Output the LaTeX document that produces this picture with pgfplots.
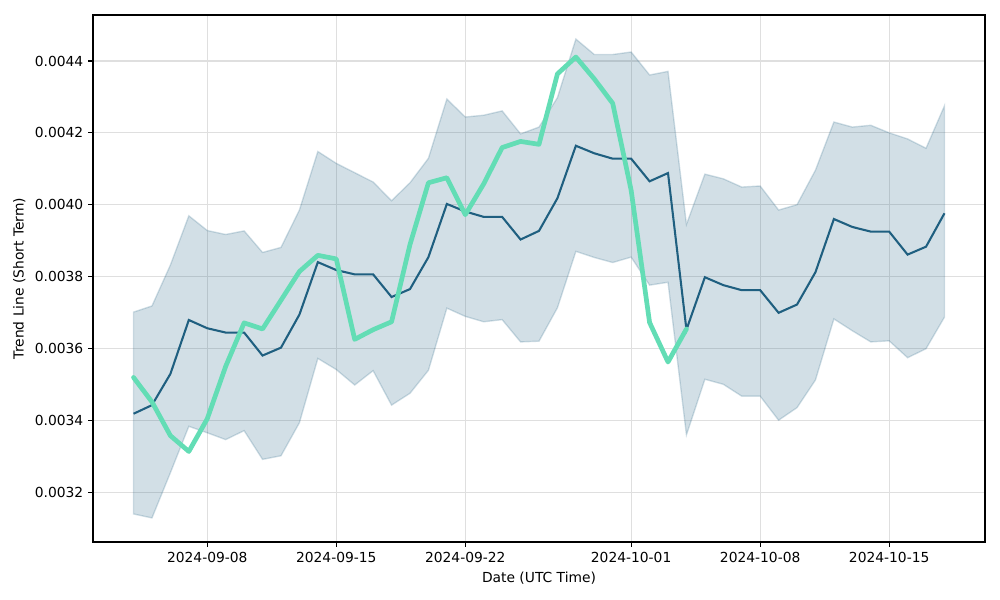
\documentclass[border=0pt]{standalone}
\usepackage{fontspec}
\setmainfont{DejaVu Sans}
\usepackage{pgfplots}
\pgfplotsset{compat=1.18}
\usepackage{pgfplotstable}
\usepgfplotslibrary{fillbetween}

\definecolor{meanblue}{HTML}{1F5F80}
\definecolor{trendgreen}{HTML}{63DDB5}

% day 0 = 2024-09-04
\pgfplotstableread{
day lo hi mean trend
0 0.003139 0.003701 0.003418 0.003519
1 0.003128 0.003718 0.003442 0.003451
2 0.003254 0.003832 0.003529 0.003357
3 0.003383 0.003969 0.003679 0.003313
4 0.003365 0.003928 0.003656 0.003404
5 0.003346 0.003917 0.003644 0.003550
6 0.003371 0.003927 0.003644 0.003671
7 0.003291 0.003867 0.003580 0.003654
8 0.003301 0.003881 0.003602 0.003734
9 0.003393 0.003985 0.003694 0.003814
10 0.003572 0.004148 0.003840 0.003859
11 0.003541 0.004115 0.003818 0.003849
12 0.003498 0.004089 0.003806 0.003625
13 0.003538 0.004063 0.003806 0.003652
14 0.003442 0.004011 0.003743 0.003674
15 0.003475 0.004061 0.003765 0.003889
16 0.003539 0.004129 0.003854 0.004061
17 0.003712 0.004294 0.004002 0.004075
18 0.003689 0.004244 0.003981 0.003972
19 0.003674 0.004249 0.003966 0.004058
20 0.003680 0.004261 0.003966 0.004159
21 0.003618 0.004197 0.003903 0.004176
22 0.003620 0.004216 0.003927 0.004168
23 0.003713 0.004298 0.004018 0.004364
24 0.003870 0.004461 0.004164 0.004411
25 0.003853 0.004418 0.004143 0.004350
26 0.003839 0.004418 0.004128 0.004282
27 0.003854 0.004425 0.004128 0.004040
28 0.003776 0.004361 0.004065 0.003672
29 0.003784 0.004371 0.004088 0.003562
30 0.003359 0.003945 0.003652 0.003654
31 0.003514 0.004085 0.003798 nan
32 0.003500 0.004072 0.003776 nan
33 0.003467 0.004049 0.003762 nan
34 0.003467 0.004052 0.003762 nan
35 0.003400 0.003985 0.003699 nan
36 0.003435 0.004000 0.003722 nan
37 0.003512 0.004096 0.003812 nan
38 0.003682 0.004230 0.003960 nan
39 0.003649 0.004216 0.003938 nan
40 0.003618 0.004221 0.003925 nan
41 0.003621 0.004200 0.003925 nan
42 0.003574 0.004183 0.003861 nan
43 0.003599 0.004157 0.003883 nan
44 0.003687 0.004275 0.003976 nan
}\trend

\begin{document}
\begin{tikzpicture}
  \begin{axis}[
      name=ax,
      scale only axis,
      width=8.92in, height=5.27in,
      xmin=-2.2, xmax=46.2,
      ymin=0.003061, ymax=0.004528,
      xtick={4,11,18,27,34,41},
      xticklabels={2024-09-08,2024-09-15,2024-09-22,2024-10-01,2024-10-08,2024-10-15},
      ytick={0.0032,0.0034,0.0036,0.0038,0.0040,0.0042,0.0044},
      scaled y ticks=false,
      yticklabel style={/pgf/number format/.cd, fixed, fixed zerofill, precision=4, assume math mode=true},
      tick label style={font=\fontsize{10}{12}\selectfont},
      label style={font=\fontsize{10}{12}\selectfont},
      xlabel={Date (UTC Time)},
      ylabel={Trend Line (Short Term)},
      tick align=outside,
      major tick length=3.5pt,
      tick style={black, line width=0.8pt},
      axis line style={line width=0.8pt},
      grid=major,
      major grid style={gray!25, line width=0.8pt},
      xtick pos=bottom, ytick pos=left,
      unbounded coords=discard,
    ]
    \addplot[name path=hi, draw=none, forget plot] table[x=day, y=hi] {\trend};
    \addplot[name path=lo, draw=none, forget plot] table[x=day, y=lo] {\trend};
    \addplot[fill=meanblue, fill opacity=0.2, draw=meanblue, draw opacity=0.2, line width=1pt]
      fill between[of=hi and lo];
    \addplot[meanblue, line width=1.5pt] table[x=day, y=mean] {\trend};
    \addplot[trendgreen, line width=3.4pt, line join=round, line cap=round] table[x=day, y=trend] {\trend};
  \end{axis}
  \path (ax.south west) ++(-0.93in,-0.58in) rectangle ++(10in,6in);
\end{tikzpicture}
\end{document}
